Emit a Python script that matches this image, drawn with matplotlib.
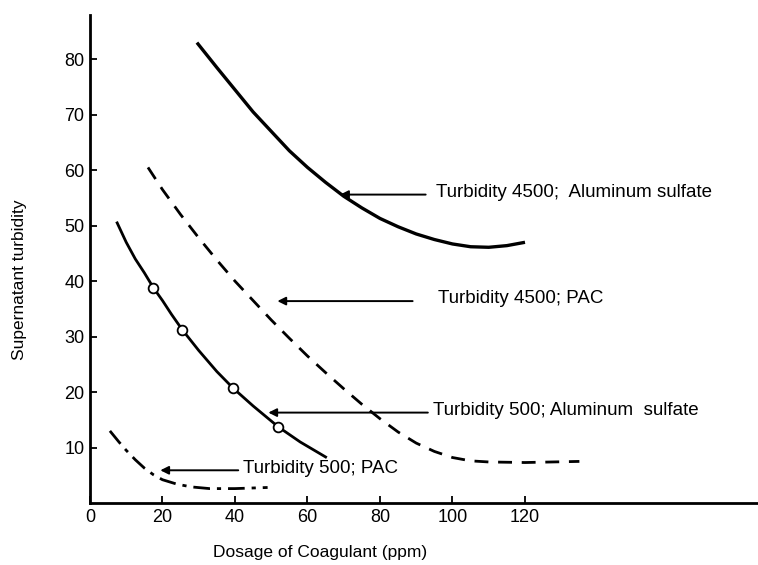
import matplotlib
matplotlib.use("Agg")
import matplotlib.pyplot as plt

plt.rcParams["font.family"] = ["Liberation Sans", "DejaVu Sans"]

# Turbidity 4500, aluminum sulfate (solid)
alum4500_x = [29.5, 35, 40, 45, 50, 55, 60, 65, 70, 75, 80, 85, 90, 95, 100, 105, 110, 115, 120]
alum4500_y = [83, 78.5, 74.5, 70.5, 67, 63.5, 60.5, 57.8, 55.3, 53.2, 51.3, 49.8, 48.5, 47.5, 46.7, 46.2, 46.1, 46.4, 47]

# Turbidity 4500, PAC (dashed)
pac4500_x = [16, 20, 25, 30, 35, 40, 45, 50, 55, 60, 65, 70, 75, 80, 85, 90, 95, 100, 105, 110, 120, 135]
pac4500_y = [60.5, 56.5, 52, 47.8, 43.8, 40, 36.5, 33, 29.7, 26.5, 23.5, 20.6, 17.8, 15.2, 12.8, 10.8, 9.3, 8.2, 7.6, 7.4, 7.3, 7.5]

# Turbidity 500, aluminum sulfate (solid with open circles)
alum500_x = [7.5, 10, 12.5, 15, 17.5, 20, 22.5, 25.5, 30, 35, 39.5, 45, 52, 58, 65]
alum500_y = [50.5, 47, 44, 41.5, 38.8, 36.5, 34, 31.2, 27.5, 23.7, 20.7, 17.5, 13.7, 11, 8.3]
alum500_pts_x = [17.5, 25.5, 39.5, 52]
alum500_pts_y = [38.8, 31.2, 20.7, 13.7]

# Turbidity 500, PAC (dash-dot)
pac500_x = [5.5, 8, 10, 12.5, 15, 17.5, 20, 24, 28, 33, 40, 49]
pac500_y = [13, 11, 9.5, 7.8, 6.3, 5.1, 4.2, 3.4, 2.9, 2.6, 2.6, 2.8]

# annotation arrows: y, tip x, tail x, label text, label left x
arrow_y = [55.6, 36.4, 16.3, 5.9]
tip_x = [69, 51.7, 49.2, 19.4]
tail_x = [92.6, 89, 93.2, 40.9]
labels = ["Turbidity 4500;  Aluminum sulfate", "Turbidity 4500; PAC",
          "Turbidity 500; Aluminum  sulfate", "Turbidity 500; PAC"]
label_x = [95.4, 95.9, 94.6, 42.3]

xticks = [0, 20, 40, 60, 80, 100, 120]
yticks = [10, 20, 30, 40, 50, 60, 70, 80]

fig = plt.figure(figsize=(7.58, 5.65), dpi=100)
ax = fig.add_axes([0.1187, 0.1097, 0.88, 0.864])

ax.plot(alum4500_x, alum4500_y, color="black", lw=2.4, solid_capstyle="butt")
ax.plot(pac4500_x, pac4500_y, color="black", lw=2.0, linestyle=(0, (5, 3.5)))
ax.plot(alum500_x, alum500_y, color="black", lw=2.0)
ax.plot(alum500_pts_x, alum500_pts_y, linestyle="none", marker="o", ms=7,
        mfc="white", mec="black", mew=1.3, zorder=3)
ax.plot(pac500_x, pac500_y, color="black", lw=2.0, linestyle=(0, (6, 2.5, 1.5, 2.5)))

for ay, tx, tl, lab, lx in zip(arrow_y, tip_x, tail_x, labels, label_x):
    ax.annotate("", xy=(tx, ay), xytext=(tl, ay),
                arrowprops=dict(arrowstyle="-|>", color="black", lw=1.4,
                                mutation_scale=12, shrinkA=0, shrinkB=0))
    ax.text(lx, ay + 0.4, lab, fontsize=13.5, va="center", ha="left")

ax.set_xlim(0, 184)
ax.set_ylim(0, 88)
ax.set_xticks(xticks)
ax.set_yticks(yticks)
ax.tick_params(direction="in", length=5, width=1.3, labelsize=13, pad=4)
ax.spines["top"].set_visible(False)
ax.spines["right"].set_visible(False)
ax.spines["left"].set_linewidth(2)
ax.spines["bottom"].set_linewidth(2)

ax.set_xlabel("Dosage of Coagulant (ppm)", fontsize=12.5)
ax.xaxis.set_label_coords(0.345, -0.086)
ax.set_ylabel("Supernatant turbidity", fontsize=12.5)
ax.yaxis.set_label_coords(-0.095, 0.457)

fig.savefig("out.png", dpi=100)
